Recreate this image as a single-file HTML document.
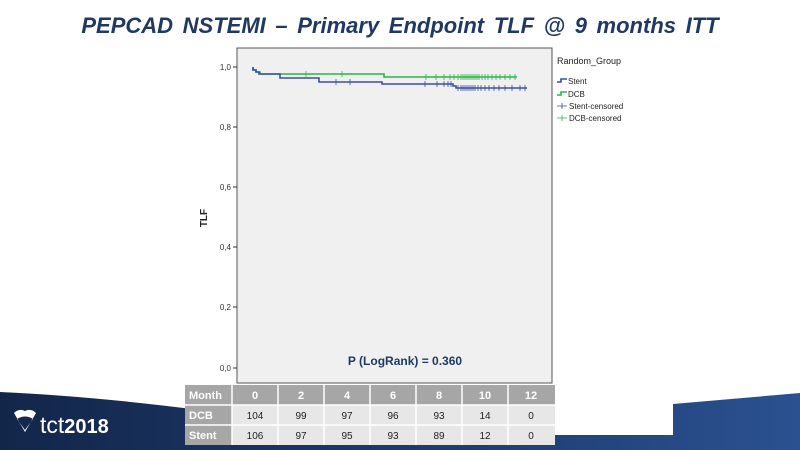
<!DOCTYPE html>
<html><head><meta charset="utf-8"><style>
body{margin:0;width:800px;height:450px;overflow:hidden;background:#fff;font-family:"Liberation Sans",sans-serif;position:relative}
svg{position:absolute;left:0;top:0}
</style></head><body>
<svg width="800" height="450" viewBox="0 0 800 450">
<defs>
<linearGradient id="g" x1="0" x2="1" y1="0" y2="0"><stop offset="0" stop-color="#13264a"/><stop offset="0.5" stop-color="#1c3a6c"/><stop offset="1" stop-color="#2b5190"/></linearGradient>
</defs>
<path d="M0,392 Q90,396 200,410 L673,410 L673,404 L800,393 L800,450 L0,450 Z" fill="url(#g)"/>
<rect x="555" y="380" width="118" height="55" fill="#fff"/>
<text x="400" y="33" text-anchor="middle" font-size="22" font-weight="bold" font-style="italic" fill="#1f3864" word-spacing="3.5">PEPCAD NSTEMI – Primary Endpoint TLF @ 9 months ITT</text>
<rect x="237" y="48" width="315" height="335" fill="#f0f0f0" stroke="#555" stroke-width="1"/>
<g font-size="8" fill="#333" text-anchor="end">
<text x="231" y="70">1,0</text><text x="231" y="130">0,8</text><text x="231" y="190">0,6</text><text x="231" y="250">0,4</text><text x="231" y="310">0,2</text><text x="231" y="371">0,0</text>
</g>
<g stroke="#333"><line x1="233" y1="67" x2="237" y2="67"/><line x1="233" y1="127" x2="237" y2="127"/><line x1="233" y1="187" x2="237" y2="187"/><line x1="233" y1="247" x2="237" y2="247"/><line x1="233" y1="307" x2="237" y2="307"/><line x1="233" y1="368" x2="237" y2="368"/></g>
<text x="207" y="218" font-size="10" font-weight="bold" fill="#222" transform="rotate(-90 207 218)" text-anchor="middle">TLF</text>
<path d="M253,67 V70 H256 V72 H260 V74 H384 V77 H517" fill="none" stroke="#2db34a" stroke-width="1.6"/>
<path d="M253,67 V70 H256 V72 H259 V74 H280 V78 H319 V82 H382 V84 H453 V86 H456 V88 H527" fill="none" stroke="#3a4fa3" stroke-width="1.6"/>
<g stroke="#2db34a" stroke-width="0.8">
<path d="M306,71v6M342,71v6M426,74v6M436,74v6M444,74v6M450,74v6M454,74v6M458,74v6M461,74v6M463,74v6M465,74v6M467,74v6M469,74v6M471,74v6M473,74v6M475,74v6M477,74v6M479,74v6M482,74v6M485,74v6M488,74v6M492,74v6M496,74v6M500,74v6M505,74v6M510,74v6M515,74v6"/>
</g>
<g stroke="#3a4fa3" stroke-width="0.8">
<path d="M336,79v6M350,79v6M425,81v6M437,81v6M444,81v6M448,81v6M451,81v6M458,85v6M461,85v6M463,85v6M465,85v6M467,85v6M469,85v6M471,85v6M473,85v6M475,85v6M478,85v6M481,85v6M485,85v6M489,85v6M494,85v6M499,85v6M505,85v6M512,85v6M520,85v6M525,85v6"/>
</g>
<text x="405" y="365" text-anchor="middle" font-size="12" font-weight="bold" fill="#1f3864">P (LogRank) = 0.360</text>
<text x="557" y="64" font-size="9" fill="#222">Random_Group</text>
<path d="M557,82 h4 v-3 h6" stroke="#3a4fa3" stroke-width="1.6" fill="none"/><text x="568" y="84" font-size="8" fill="#222">Stent</text>
<path d="M557,95 h4 v-3 h6" stroke="#2db34a" stroke-width="1.6" fill="none"/><text x="568" y="97" font-size="8" fill="#222">DCB</text>
<path d="M557,106 h10 M562,103 v6" stroke="#3a4fa3" stroke-width="0.8"/><text x="569" y="109" font-size="8" fill="#222">Stent-censored</text>
<path d="M557,118 h10 M562,115 v6" stroke="#2db34a" stroke-width="0.8"/><text x="569" y="121" font-size="8" fill="#222">DCB-censored</text>
<g>
<rect x="185" y="385" width="370" height="20" fill="#a6a6a6"/>
<rect x="185" y="405" width="370" height="40" fill="#e7e7e7"/>
<rect x="185" y="405" width="47" height="40" fill="#a6a6a6"/>
<g stroke="#fff" stroke-width="1.5">
<line x1="185" y1="405" x2="555" y2="405"/><line x1="185" y1="425" x2="555" y2="425"/>
<line x1="232" y1="385" x2="232" y2="445"/><line x1="278" y1="385" x2="278" y2="445"/><line x1="324" y1="385" x2="324" y2="445"/><line x1="370" y1="385" x2="370" y2="445"/><line x1="416" y1="385" x2="416" y2="445"/><line x1="462" y1="385" x2="462" y2="445"/><line x1="508" y1="385" x2="508" y2="445"/>
</g>
<g font-size="11" fill="#fff" font-weight="bold"><text x="189" y="399">Month</text><text x="189" y="419">DCB</text><text x="189" y="439">Stent</text></g>
<g font-size="11" fill="#fff" font-weight="bold" text-anchor="middle"><text x="255" y="399">0</text><text x="301" y="399">2</text><text x="347" y="399">4</text><text x="393" y="399">6</text><text x="439" y="399">8</text><text x="485" y="399">10</text><text x="531" y="399">12</text></g>
<g font-size="10" fill="#222" text-anchor="middle">
<text x="255" y="419">104</text><text x="301" y="419">99</text><text x="347" y="419">97</text><text x="393" y="419">96</text><text x="439" y="419">93</text><text x="485" y="419">14</text><text x="531" y="419">0</text>
<text x="255" y="439">106</text><text x="301" y="439">97</text><text x="347" y="439">95</text><text x="393" y="439">93</text><text x="439" y="439">89</text><text x="485" y="439">12</text><text x="531" y="439">0</text>
</g>
</g>
<path d="M14,413 Q19,408 25,411 Q31,408 36,413 L25,432 Z M17,419 Q25,414 33,419 L25,430 Z" fill="#fff" fill-rule="evenodd"/>
<text x="40" y="433" font-size="23" fill="#fff">tct<tspan font-weight="bold" font-size="20">2018</tspan></text>
</svg>
</body></html>
